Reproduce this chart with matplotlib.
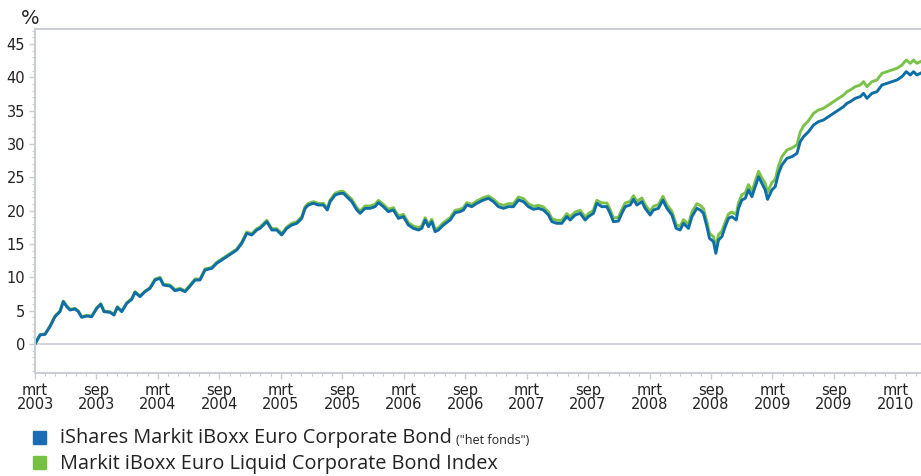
import matplotlib
matplotlib.use("Agg")
import matplotlib.pyplot as plt
from matplotlib.patches import Rectangle

# maanden sinds maart 2003
months = [
    0.0, 0.49, 0.98, 1.46, 1.95, 2.44, 2.76, 3.10, 3.42, 3.91, 4.23, 4.56, 5.05, 5.54,
    6.03, 6.42, 6.74, 7.32, 7.71, 8.04, 8.47, 8.96, 9.44, 9.77, 10.25, 10.74, 11.23, 11.72,
    12.21, 12.53, 13.18, 13.67, 14.16, 14.65, 15.14, 15.63, 16.11, 16.60, 17.26, 17.74,
    18.23, 18.72, 19.21, 19.70, 20.19, 20.67, 21.16, 21.65, 21.97, 22.63, 23.12, 23.60,
    24.09, 24.58, 25.07, 25.56, 26.04, 26.37, 26.69, 27.18, 27.67, 28.15, 28.54, 28.81,
    29.30, 29.79, 30.11, 30.44, 30.93, 31.42, 31.74, 32.23, 32.71, 33.20, 33.53, 34.01,
    34.50, 34.99, 35.48, 35.97, 36.45, 36.94, 37.43, 37.76, 38.09, 38.41, 38.74, 39.06,
    39.39, 39.87, 40.53, 41.02, 41.50, 41.83, 42.16, 42.64, 43.13, 43.78, 44.27, 44.76,
    45.24, 45.73, 46.22, 46.71, 47.20, 47.69, 48.17, 48.66, 49.15, 49.64, 50.13, 50.46,
    50.95, 51.43, 51.92, 52.25, 52.73, 53.22, 53.71, 54.03, 54.52, 54.85, 55.34, 55.83,
    56.15, 56.47, 56.96, 57.29, 57.62, 58.11, 58.43, 58.76, 59.25, 59.57, 60.06, 60.38,
    60.87, 61.30, 61.69, 62.18, 62.60, 62.99, 63.31, 63.80, 64.13, 64.62, 64.94, 65.26,
    65.60, 65.85, 66.24, 66.47, 66.73, 67.06, 67.38, 67.71, 68.04, 68.46, 68.68, 69.01,
    69.34, 69.66, 69.99, 70.31, 70.64, 70.97, 71.29, 71.52, 71.94, 72.27, 72.59, 72.92,
    73.41, 73.90, 74.39, 74.71, 75.03, 75.52, 76.01, 76.49, 76.98, 77.47, 77.96, 78.45,
    78.94, 79.27, 79.59, 80.08, 80.57, 80.89, 81.22, 81.71, 82.20, 82.69, 83.17, 83.66,
    84.15, 84.64, 85.06, 85.45, 85.77, 86.10, 86.43,
]

# iShares Markit iBoxx Euro Corporate Bond (het fonds), rendement in %
fund = [
    0.0, 1.35, 1.45, 2.6, 4.1, 4.85, 6.35, 5.6, 5.1, 5.25, 4.85, 4.0, 4.2, 4.1,
    5.35, 5.95, 4.85, 4.75, 4.35, 5.5, 4.85, 6.1, 6.7, 7.75, 7.1, 7.85, 8.35, 9.6,
    9.85, 8.85, 8.7, 8.0, 8.2, 7.85, 8.7, 9.6, 9.6, 11.1, 11.35, 12.1,
    12.6, 13.1, 13.6, 14.1, 15.1, 16.6, 16.35, 17.1, 17.35, 18.35, 17.1, 17.1,
    16.35, 17.35, 17.85, 18.1, 18.85, 20.35, 20.85, 21.1, 20.85, 20.85, 20.1, 21.35,
    22.35, 22.6, 22.6, 22.1, 21.35, 20.1, 19.6, 20.35, 20.35, 20.6, 21.2, 20.6,
    19.85, 20.1, 18.85, 19.1, 17.85, 17.35, 17.1, 17.35, 18.6, 17.6, 18.35, 16.85,
    17.1, 17.85, 18.6, 19.7, 19.85, 20.1, 20.85, 20.6, 21.1, 21.6, 21.85, 21.35,
    20.6, 20.35, 20.6, 20.6, 21.6, 21.35, 20.6, 20.2, 20.35, 20.1, 19.35, 18.35,
    18.1, 18.1, 19.1, 18.6, 19.35, 19.6, 18.6, 19.1, 19.6, 21.1, 20.6, 20.6,
    19.6, 18.35, 18.45, 19.6, 20.6, 20.85, 21.7, 20.85, 21.35, 20.35, 19.35, 20.1,
    20.35, 21.6, 20.35, 19.35, 17.35, 17.1, 18.1, 17.35, 19.1, 20.35, 20.1, 19.6,
    17.6, 15.85, 15.35, 13.6, 15.6, 16.1, 17.6, 18.85, 19.1, 18.6, 20.35, 21.6,
    21.85, 23.1, 22.1, 23.6, 25.1, 24.1, 23.1, 21.7, 23.1, 23.6, 25.6, 26.85,
    27.85, 28.1, 28.6, 30.35, 31.1, 31.85, 32.85, 33.35, 33.6, 34.1, 34.6, 35.1,
    35.6, 36.1, 36.35, 36.85, 37.1, 37.6, 36.85, 37.6, 37.85, 38.85, 39.1, 39.35,
    39.6, 40.1, 40.85, 40.35, 40.85, 40.35, 40.6,
]

# Markit iBoxx Euro Liquid Corporate Bond Index, rendement in %
index = [
    0.0, 1.4, 1.5, 2.7, 4.2, 4.95, 6.45, 5.7, 5.2, 5.35, 4.95, 4.1, 4.3, 4.2,
    5.45, 6.05, 4.95, 4.85, 4.45, 5.6, 4.95, 6.2, 6.8, 7.85, 7.2, 7.95, 8.45, 9.75,
    10.0, 9.0, 8.85, 8.15, 8.35, 8.0, 8.85, 9.75, 9.75, 11.25, 11.5, 12.25,
    12.75, 13.25, 13.75, 14.25, 15.3, 16.8, 16.55, 17.3, 17.55, 18.55, 17.3, 17.3,
    16.55, 17.55, 18.1, 18.35, 19.1, 20.6, 21.1, 21.35, 21.1, 21.1, 20.35, 21.6,
    22.6, 22.9, 22.9, 22.4, 21.7, 20.45, 19.95, 20.7, 20.7, 20.95, 21.55, 20.95,
    20.2, 20.45, 19.2, 19.45, 18.2, 17.7, 17.45, 17.7, 18.95, 17.95, 18.7, 17.2,
    17.45, 18.2, 18.95, 20.05, 20.2, 20.45, 21.2, 20.95, 21.45, 21.95, 22.2, 21.7,
    21.05, 20.8, 21.05, 21.05, 22.05, 21.8, 21.05, 20.65, 20.8, 20.55, 19.8, 18.8,
    18.55, 18.55, 19.55, 19.05, 19.8, 20.05, 19.05, 19.55, 20.05, 21.55, 21.15, 21.15,
    20.15, 18.9, 19.0, 20.15, 21.15, 21.4, 22.25, 21.4, 21.9, 20.9, 19.9, 20.65,
    20.9, 22.15, 20.9, 19.9, 17.9, 17.65, 18.65, 17.9, 19.8, 21.05, 20.8, 20.3,
    18.3, 16.6, 16.1, 14.5, 16.4, 16.9, 18.3, 19.5, 19.8, 19.4, 21.15, 22.4,
    22.65, 23.9, 22.9, 24.4, 25.9, 24.9, 24.1, 22.8, 24.2, 24.7, 26.7, 28.1,
    29.1, 29.4, 29.9, 31.8, 32.7, 33.5, 34.6, 35.1, 35.35, 35.85, 36.35, 36.85,
    37.35, 37.85, 38.1, 38.6, 38.85, 39.35, 38.6, 39.35, 39.6, 40.6, 40.85, 41.1,
    41.35, 41.85, 42.6, 42.1, 42.6, 42.1, 42.35,
]

tick_months = [0, 6, 12, 18, 24, 30, 36, 42, 48, 54, 60, 66, 72, 78, 84]
tick_labels = ["mrt\n2003", "sep\n2003", "mrt\n2004", "sep\n2004", "mrt\n2005",
               "sep\n2005", "mrt\n2006", "sep\n2006", "mrt\n2007", "sep\n2007",
               "mrt\n2008", "sep\n2008", "mrt\n2009", "sep\n2009", "mrt\n2010"]
y_ticks = [0, 5, 10, 15, 20, 25, 30, 35, 40, 45]

legend_names = ["iShares Markit iBoxx Euro Corporate Bond", "Markit iBoxx Euro Liquid Corporate Bond Index"]

blue = "#106ea6"
green = "#7cc24a"
grey = "#c9cdd3"

fig = plt.figure(figsize=(9.21, 4.76), dpi=100)
ax = fig.add_axes([35 / 921, 1 - 373 / 476, 1 - 35 / 921, (373 - 29) / 476])

ax.plot(months, index, color=green, lw=2.1, solid_joinstyle="round")
ax.plot(months, fund, color=blue, lw=2.1, solid_joinstyle="round")
ax.axhline(0, color=grey, lw=1.2, zorder=0)

ax.set_xlim(0, 86.5)
ax.set_ylim(-4.35, 47.25)

ax.set_xticks(tick_months)
ax.set_xticklabels(tick_labels, fontsize=10.5, color="#222222", linespacing=0.9)
ax.set_xticks(range(0, 87), minor=True)
ax.set_yticks(y_ticks)
ax.set_yticklabels([str(v) for v in y_ticks], fontsize=10.5, color="#222222")
ax.set_yticks(range(-4, 48), minor=True)

ax.tick_params(axis="both", which="major", length=4, width=1, color=grey, pad=3)
ax.tick_params(axis="both", which="minor", length=2.5, width=0.8, color=grey)
ax.tick_params(axis="x", which="major", pad=3)

for side in ["left", "bottom", "top"]:
    ax.spines[side].set_color(grey)
    ax.spines[side].set_linewidth(1.4)
ax.spines["right"].set_visible(False)

fig.text(21 / 921, 1 - 24 / 476, "%", fontsize=14, color="#222222", va="baseline")

# legenda
for i, (name, col) in enumerate(zip(legend_names, ["#1a6db3", "#77c043"])):
    y_top = 431 + i * 25
    fig.patches.append(Rectangle((33 / 921, 1 - (y_top + 13) / 476), 13 / 921, 13 / 476,
                                 transform=fig.transFigure, color=col))
    t = fig.text(60 / 921, 1 - (y_top + 12.5) / 476, name, fontsize=14.3,
                 family="Open Sans", color="#222222", va="baseline")
    if i == 0:
        fig.canvas.draw()
        bb = t.get_window_extent()
        fig.text((bb.x1 + 4) / 921, 1 - (y_top + 12.5) / 476, '("het fonds")', fontsize=9,
                 family="Open Sans", color="#222222", va="baseline")

fig.savefig("out.png", dpi=100)
